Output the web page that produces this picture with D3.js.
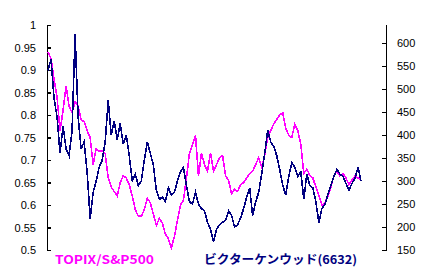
<!DOCTYPE html>
<html>
<head>
<meta charset="utf-8">
<script src="https://cdn.jsdelivr.net/npm/d3@7"></script>
<style>
  html, body { margin: 0; padding: 0; background: #fff; }
  .tick text { font-family: "Liberation Sans", Arial, sans-serif; font-size: 11px; fill: #000; }
  .legend { font-family: "Noto Sans CJK JP", "DejaVu Sans", sans-serif; font-size: 12px; font-weight: bold; }
</style>
</head>
<body>
<svg id="chart" width="431" height="274"></svg>
<script>
// TOPIX/S&P500 ratio (left axis), one value every few trading days
const topixSp = [
  0.94, 0.925, 0.88, 0.84, 0.765, 0.81, 0.865, 0.82, 0.805, 0.83,
  0.82, 0.79, 0.785, 0.765, 0.75, 0.69, 0.725, 0.72, 0.72, 0.715,
  0.66, 0.64, 0.63, 0.62, 0.65, 0.665, 0.66, 0.645, 0.62, 0.59,
  0.575, 0.575, 0.59, 0.615, 0.605, 0.58, 0.555, 0.57, 0.56, 0.535,
  0.525, 0.505, 0.53, 0.565, 0.6, 0.61, 0.66, 0.715, 0.735, 0.755,
  0.665, 0.715, 0.69, 0.675, 0.715, 0.675, 0.69, 0.705, 0.71, 0.665,
  0.655, 0.625, 0.635, 0.63, 0.645, 0.65, 0.66, 0.67, 0.675, 0.69,
  0.705, 0.685, 0.71, 0.75, 0.765, 0.78, 0.79, 0.8, 0.805, 0.77,
  0.755, 0.75, 0.78, 0.765, 0.735, 0.67, 0.68, 0.665, 0.66, 0.64,
  0.62, 0.6, 0.605, 0.62, 0.64, 0.665, 0.675, 0.665, 0.67, 0.66,
  0.645, 0.655, 0.665, 0.66, 0.655
];

// ビクターケンウッド(6632) share price (right axis)
const victor = [
  540, 565, 480, 440, 360, 420, 370, 355, 410, 620,
  440, 370, 385, 320, 218, 275, 300, 330, 345, 385,
  475, 400, 430, 390, 425, 380, 400, 355, 300, 315,
  290, 300, 345, 385, 360, 335, 280, 260, 265, 255,
  285, 270, 275, 300, 320, 330, 290, 255, 250, 275,
  250, 240, 235, 210, 195, 168, 195, 205, 210, 215,
  235, 225, 200, 205, 220, 240, 265, 285, 225, 255,
  275, 315, 360, 410, 385, 375, 355, 325, 290, 270,
  310, 340, 330, 310, 320, 260, 315, 290, 285, 255,
  210, 240, 250, 270, 290, 310, 325, 315, 310, 295,
  280, 295, 305, 330, 300
];

const leftTicks = [0.5, 0.55, 0.6, 0.65, 0.7, 0.75, 0.8, 0.85, 0.9, 0.95, 1];
const rightTicks = [150, 200, 250, 300, 350, 400, 450, 500, 550, 600];
const legendLabels = ['TOPIX/S&P500', 'ビクターケンウッド(6632)'];

const svg = d3.select('#chart');

const x = d3.scaleLinear().domain([0, topixSp.length - 1]).range([48, 361]);
const yLeft = d3.scaleLinear().domain([0.5, 1]).range([250, 25]);
const yRight = d3.scaleLinear().domain([150, 640]).range([250, 24.6]);

// axes (ticks point inward, like the original)
svg.append('g')
    .attr('transform', 'translate(47,0)')
    .call(d3.axisLeft(yLeft).tickValues(leftTicks).tickSizeInner(-4).tickSizeOuter(0)
        .tickPadding(11).tickFormat(d => String(+d.toFixed(2))));

svg.append('g')
    .attr('transform', 'translate(386,0)')
    .call(d3.axisRight(yRight).tickValues(rightTicks).tickSizeInner(-4).tickSizeOuter(0)
        .tickPadding(11).tickFormat(d3.format('d')));

svg.selectAll('.domain, .tick line')
    .attr('stroke', '#000')
    .attr('stroke-width', 1.2)
    .attr('shape-rendering', 'crispEdges');

// series
const lineLeft = d3.line().x((d, i) => x(i)).y(d => yLeft(d));
const lineRight = d3.line().x((d, i) => x(i)).y(d => yRight(d));

svg.append('path')
    .datum(topixSp)
    .attr('fill', 'none')
    .attr('stroke', '#ff00ff')
    .attr('stroke-width', 1.6)
    .attr('shape-rendering', 'crispEdges')
    .attr('d', lineLeft);

svg.append('path')
    .datum(victor)
    .attr('fill', 'none')
    .attr('stroke', '#000080')
    .attr('stroke-width', 1.6)
    .attr('shape-rendering', 'crispEdges')
    .attr('d', lineRight);

// series names under the plot
svg.append('text')
    .attr('class', 'legend')
    .attr('x', 55).attr('y', 264)
    .attr('fill', '#ff00ff')
    .attr('textLength', 99).attr('lengthAdjust', 'spacingAndGlyphs')
    .text(legendLabels[0]);

svg.append('text')
    .attr('class', 'legend')
    .attr('x', 204).attr('y', 264)
    .attr('fill', '#000080')
    .attr('textLength', 153).attr('lengthAdjust', 'spacingAndGlyphs')
    .text(legendLabels[1]);
</script>
</body>
</html>
